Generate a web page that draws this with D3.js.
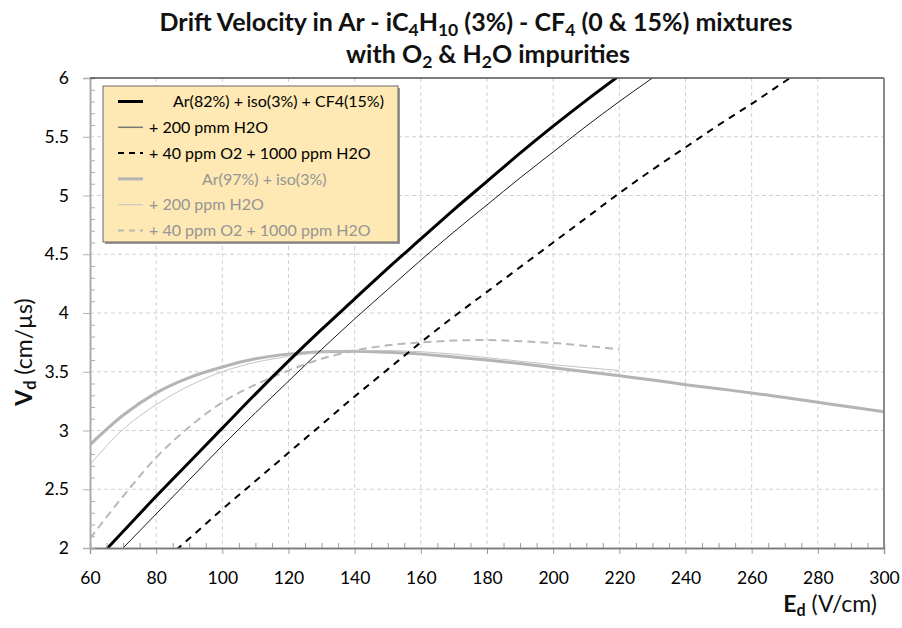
<!DOCTYPE html>
<html>
<head>
<meta charset="utf-8">
<script src="https://cdn.jsdelivr.net/npm/d3@7"></script>
<style>
  body { margin: 0; background: #fff; }
  svg { display: block; }
</style>
</head>
<body>
<svg id="chart" width="902" height="628"></svg>
<script>
// ---- data ----
// drift field E (V/cm) for each curve
const eCF4      = [60, 70, 80, 90, 100, 110, 120, 130, 140, 150, 160, 170, 180, 190, 200, 210, 220];
const eCF4H2O   = [60, 70, 80, 90, 100, 110, 120, 130, 140, 150, 160, 170, 180, 190, 200, 210, 220, 230];
const eCF4O2    = [80, 90, 100, 110, 120, 130, 140, 150, 160, 170, 180, 190, 200, 210, 220, 230, 240, 250, 260, 270, 280];
const eIso      = [60, 70, 80, 90, 100, 110, 120, 130, 140, 150, 160, 170, 180, 190, 200, 210, 220, 230, 240, 250, 260, 270, 280, 290, 300];
const eIsoH2O   = [60, 70, 80, 90, 100, 110, 120, 130, 140, 150, 160, 170, 180, 190, 200, 210, 220];
const eIsoO2    = [60, 70, 80, 90, 100, 110, 120, 130, 140, 150, 160, 170, 180, 190, 200, 210, 220];

// drift velocity Vd (cm/us)
const vCF4      = [1.84, 2.14, 2.44, 2.73, 3.02, 3.31, 3.59, 3.86, 4.12, 4.38, 4.63, 4.88, 5.12, 5.36, 5.59, 5.81, 6.02];
const vCF4H2O   = [1.71, 2.00, 2.29, 2.58, 2.87, 3.15, 3.42, 3.69, 3.95, 4.20, 4.45, 4.69, 4.92, 5.15, 5.37, 5.59, 5.80, 6.00];
const vCF4O2    = [1.84, 2.08, 2.33, 2.57, 2.81, 3.05, 3.29, 3.52, 3.75, 3.97, 4.18, 4.39, 4.60, 4.81, 5.02, 5.22, 5.41, 5.60, 5.78, 5.97, 6.15];
const vIso      = [2.88, 3.13, 3.32, 3.45, 3.54, 3.61, 3.65, 3.67, 3.675, 3.665, 3.65, 3.625, 3.60, 3.57, 3.535, 3.50, 3.465, 3.43, 3.39, 3.355, 3.32, 3.28, 3.24, 3.20, 3.16];
const vIsoH2O   = [2.71, 3.01, 3.22, 3.38, 3.50, 3.58, 3.63, 3.665, 3.68, 3.68, 3.67, 3.65, 3.62, 3.59, 3.56, 3.535, 3.51];
const vIsoO2    = [2.08, 2.44, 2.77, 3.03, 3.24, 3.39, 3.51, 3.61, 3.68, 3.725, 3.75, 3.765, 3.77, 3.76, 3.745, 3.72, 3.69];

const seriesNames = [
  'Ar(82%) + iso(3%) + CF4(15%)',
  '+ 200 pmm H2O',
  '+ 40 ppm O2 + 1000 ppm H2O',
  'Ar(97%) + iso(3%)',
  '+ 200 ppm H2O',
  '+ 40 ppm O2 + 1000 ppm H2O'
];

const xTicks = [60, 80, 100, 120, 140, 160, 180, 200, 220, 240, 260, 280, 300];
const yTicks = [2, 2.5, 3, 3.5, 4, 4.5, 5, 5.5, 6];

// ---- layout ----
const width = 902, height = 628;
const plot = { left: 90, right: 884, top: 78, bottom: 548 };
const font = 'Lato, "Open Sans", sans-serif';

const svg = d3.select('#chart');

const x = d3.scaleLinear().domain([60, 300]).range([plot.left, plot.right]);
const y = d3.scaleLinear().domain([2, 6]).range([plot.bottom, plot.top]);

// series table built from the arrays above, with line styles
const series = [
  { name: seriesNames[3], e: eIso,    v: vIso,    color: '#b4b4b4', width: 3,   dash: null,  textColor: '#959595', lx: 202 },
  { name: seriesNames[4], e: eIsoH2O, v: vIsoH2O, color: '#c4c4c4', width: 1,   dash: null,  textColor: '#959595', lx: 149 },
  { name: seriesNames[5], e: eIsoO2,  v: vIsoO2,  color: '#b8b8b8', width: 2,   dash: '8,5', textColor: '#959595', lx: 149 },
  { name: seriesNames[0], e: eCF4,    v: vCF4,    color: '#000',    width: 3,   dash: null,  textColor: '#000',    lx: 173 },
  { name: seriesNames[1], e: eCF4H2O, v: vCF4H2O, color: '#000',    width: 0.9, dash: null,  textColor: '#000',    lx: 149, sample: '#777' },
  { name: seriesNames[2], e: eCF4O2,  v: vCF4O2,  color: '#000',    width: 2,   dash: '7,6', textColor: '#000',    lx: 149 }
];

// clip region for the curves
svg.append('defs').append('clipPath')
  .attr('id', 'plot-clip')
  .append('rect')
  .attr('x', plot.left)
  .attr('y', plot.top)
  .attr('width', plot.right - plot.left)
  .attr('height', plot.bottom - plot.top);

// gridlines
const grid = svg.append('g').attr('class', 'grid');
grid.selectAll('line.vgrid')
  .data(xTicks.filter(d => d > 60 && d < 300))
  .enter().append('line')
  .attr('x1', d => x(d)).attr('x2', d => x(d))
  .attr('y1', plot.top).attr('y2', plot.bottom)
  .attr('stroke', '#d0d0d0')
  .attr('stroke-dasharray', '4,3');
grid.selectAll('line.hgrid')
  .data(yTicks.filter(d => d > 2 && d < 6))
  .enter().append('line')
  .attr('x1', plot.left).attr('x2', plot.right)
  .attr('y1', d => y(d)).attr('y2', d => y(d))
  .attr('stroke', '#d0d0d0')
  .attr('stroke-dasharray', '4,3');

// curves
const line = d3.line()
  .x(d => x(d[0]))
  .y(d => y(d[1]))
  .curve(d3.curveMonotoneX);

svg.append('g')
  .attr('clip-path', 'url(#plot-clip)')
  .selectAll('path')
  .data(series)
  .enter().append('path')
  .attr('d', s => line(d3.zip(s.e, s.v)))
  .attr('fill', 'none')
  .attr('stroke', s => s.color)
  .attr('stroke-width', s => s.width)
  .attr('stroke-dasharray', s => s.dash);

// axes: major ticks outside, minor ticks inside
const xAxis = svg.append('g').attr('transform', `translate(0,${plot.bottom})`)
  .call(d3.axisBottom(x).tickValues(xTicks).tickSize(6).tickPadding(18).tickFormat(d3.format('d')));
const xMinor = svg.append('g').attr('transform', `translate(0,${plot.bottom})`)
  .call(d3.axisBottom(x).tickValues(d3.range(65, 300, 5).filter(d => d % 20 !== 0)).tickSize(-5).tickFormat(''));
const yAxis = svg.append('g').attr('transform', `translate(${plot.left},0)`)
  .call(d3.axisLeft(y).tickValues(yTicks).tickSize(7).tickPadding(14).tickFormat(d3.format('')));
const yMinor = svg.append('g').attr('transform', `translate(${plot.left},0)`)
  .call(d3.axisLeft(y).tickValues(d3.range(2.1, 6, 0.1).filter(d => Math.abs(d * 2 - Math.round(d * 2)) > 0.01)).tickSize(-5).tickFormat(''));

[xAxis, xMinor].forEach(g => {
  g.select('.domain').attr('stroke', '#7a7a7a').attr('stroke-width', 1.3);
  g.selectAll('.tick line').attr('stroke', '#9a9a9a');
});
[yAxis, yMinor].forEach(g => {
  g.select('.domain').attr('stroke', '#a8a8a8').attr('stroke-width', 1.5);
  g.selectAll('.tick line').attr('stroke', '#b0b0b0');
});
svg.selectAll('.tick text')
  .attr('font-family', font)
  .attr('font-size', 17.5)
  .attr('fill', '#000');

// frame top and right
svg.append('line')
  .attr('x1', plot.left).attr('x2', plot.right)
  .attr('y1', plot.top).attr('y2', plot.top)
  .attr('stroke', '#505050').attr('stroke-width', 1.3);
svg.append('line')
  .attr('x1', plot.right).attr('x2', plot.right)
  .attr('y1', plot.top).attr('y2', plot.bottom)
  .attr('stroke', '#8a8a8a').attr('stroke-width', 2);

// legend
const legend = svg.append('g').attr('class', 'legend');
const lg = { x: 103, y: 86, w: 295, h: 156 };
legend.append('rect')
  .attr('x', lg.x + 2).attr('y', lg.y + 2)
  .attr('width', lg.w).attr('height', lg.h)
  .attr('fill', '#9a9a9a');
legend.append('rect')
  .attr('x', lg.x).attr('y', lg.y)
  .attr('width', lg.w).attr('height', lg.h)
  .attr('fill', '#fee8b3')
  .attr('stroke', '#6a6a6a')
  .attr('stroke-width', 1);

const legendOrder = [3, 4, 5, 0, 1, 2];
const rowY = d3.scaleLinear().domain([0, 5]).range([101.5, 230.5]);
legendOrder.forEach((si, i) => {
  const s = series[si];
  const yy = rowY(i);
  legend.append('line')
    .attr('x1', 118).attr('x2', 143)
    .attr('y1', yy).attr('y2', yy)
    .attr('stroke', s.sample || s.color)
    .attr('stroke-width', s.sample ? 1.5 : (s.width === 0.9 ? 1 : s.width))
    .attr('stroke-dasharray', s.dash ? '6,5' : null);
  legend.append('text')
    .attr('x', s.lx).attr('y', yy)
    .attr('dy', '0.35em')
    .attr('font-family', font)
    .attr('font-size', 16)
    .attr('fill', s.textColor)
    .text(s.name);
});

// title with subscripts
const title = svg.append('g')
  .attr('font-family', font)
  .attr('font-weight', 'bold')
  .attr('font-size', 25)
  .attr('fill', '#111');

function richText(g, xPos, yPos, parts) {
  const t = g.append('text').attr('x', xPos).attr('y', yPos).attr('text-anchor', 'middle');
  parts.forEach(p => {
    const ts = t.append('tspan').text(p[0]);
    if (p[1]) ts.attr('baseline-shift', '-25%').attr('font-size', '70%');
  });
  return t;
}
richText(title, 476, 31, [
  ['Drift Velocity in Ar - iC'], ['4', 1], ['H'], ['10', 1], [' (3%) - CF'], ['4', 1], [' (0 & 15%) mixtures']
]);
richText(title, 488, 63, [
  ['with O'], ['2', 1], [' & H'], ['2', 1], ['O impurities']
]);

// axis titles
const xt = svg.append('text')
  .attr('x', 877).attr('y', 612)
  .attr('text-anchor', 'end')
  .attr('font-family', font)
  .attr('font-size', 23)
  .attr('fill', '#111');
xt.append('tspan').attr('font-weight', 'bold').text('E');
xt.append('tspan').attr('font-weight', 'bold').attr('baseline-shift', '-25%').attr('font-size', '70%').text('d');
xt.append('tspan').text(' (V/cm)');

const yt = svg.append('text')
  .attr('transform', 'translate(32,352) rotate(-90)')
  .attr('text-anchor', 'middle')
  .attr('font-family', font)
  .attr('font-size', 23)
  .attr('fill', '#111');
yt.append('tspan').attr('font-weight', 'bold').text('V');
yt.append('tspan').attr('font-weight', 'bold').attr('baseline-shift', '-25%').attr('font-size', '70%').text('d');
yt.append('tspan').text(' (cm/µs)');
</script>
</body>
</html>
